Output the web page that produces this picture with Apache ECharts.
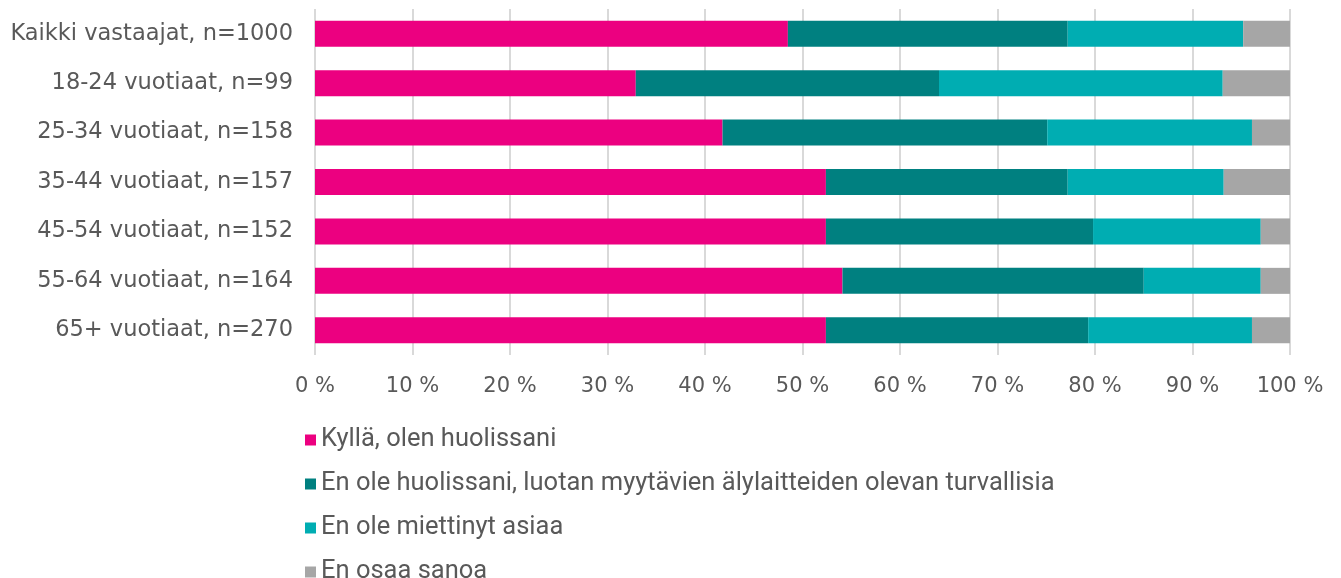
<!DOCTYPE html>
<html>
<head>
<meta charset="utf-8">
<script src="https://cdn.jsdelivr.net/npm/echarts@6/dist/echarts.min.js"></script>
<style>
  html, body { margin: 0; padding: 0; background: #fff; }
  #chart { width: 1341px; height: 578px; }
</style>
</head>
<body>
<div id="chart"></div>
<script>
// categories, top to bottom
var categories = ['Kaikki vastaajat, n=1000', '18-24 vuotiaat, n=99', '25-34 vuotiaat, n=158',
  '35-44 vuotiaat, n=157', '45-54 vuotiaat, n=152', '55-64 vuotiaat, n=164', '65+ vuotiaat, n=270']
var seriesNames = ['Kyllä, olen huolissani',
  'En ole huolissani, luotan myytävien älylaitteiden olevan turvallisia',
  'En ole miettinyt asiaa', 'En osaa sanoa']
// percent values per category
var kylla = [48.5, 32.9, 41.8, 52.4, 52.4, 54.1, 52.4]
var eiHuolissaan = [28.7, 31.1, 33.3, 24.8, 27.4, 30.9, 26.9]
var eiMiettinyt = [18.0, 29.1, 21.0, 16.0, 17.2, 12.0, 16.8]
var eiOsaa = [4.8, 6.9, 3.9, 6.8, 3.0, 3.0, 3.9]
var xTicks = [0, 10, 20, 30, 40, 50, 60, 70, 80, 90, 100]

var colors = ['#ec0080', '#008080', '#00adb2', '#a6a6a6']
var seriesData = [kylla, eiHuolissaan, eiMiettinyt, eiOsaa]

var myChart = echarts.init(document.getElementById('chart'))
var option = {
  animation: false,
  grid: { left: 315, right: 51, top: 9, height: 346 },
  legend: {
    orient: 'vertical',
    left: 300,
    top: 422,
    height: 170,
    itemWidth: 11,
    itemHeight: 11,
    itemGap: 18,
    icon: 'rect',
    data: seriesNames,
    textStyle: { fontFamily: 'Roboto', fontSize: 25.5, color: '#595959', padding: [0, 0, 0, 0] }
  },
  xAxis: {
    type: 'value',
    min: 0,
    max: 100,
    interval: 10,
    axisLine: { show: false },
    axisTick: { show: false },
    splitLine: { lineStyle: { color: '#d9d9d9', width: 2 } },
    axisLabel: {
      fontFamily: 'DejaVu Sans',
      fontSize: 21,
      color: '#595959',
      margin: 21,
      formatter: function (v) { return xTicks.indexOf(v) >= 0 ? v + ' %' : '' }
    }
  },
  yAxis: {
    type: 'category',
    inverse: true,
    data: categories,
    axisLine: { show: false },
    axisTick: { show: false },
    axisLabel: { fontFamily: 'DejaVu Sans', fontSize: 22.5, color: '#595959', margin: 22 }
  },
  series: seriesNames.map(function (name, i) {
    return {
      name: name,
      type: 'bar',
      stack: 'total',
      barWidth: 26,
      itemStyle: { color: colors[i] },
      data: seriesData[i]
    }
  })
}
myChart.setOption(option)
</script>
</body>
</html>
